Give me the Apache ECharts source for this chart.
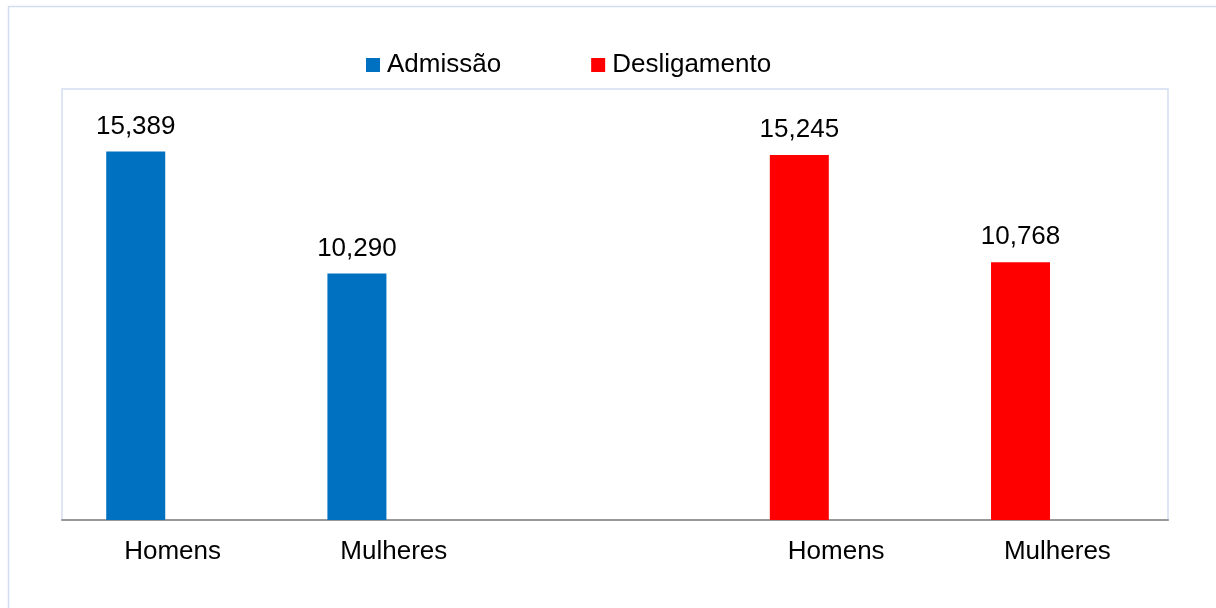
<!DOCTYPE html>
<html>
<head>
<meta charset="utf-8">
<script src="https://cdn.jsdelivr.net/npm/echarts@6/dist/echarts.min.js"></script>
<style>
  html, body { margin: 0; padding: 0; background: #fff; }
  #chart { width: 1216px; height: 608px; }
</style>
</head>
<body>
<div id="chart"></div>
<script>
// dados
const categories = ['Homens', 'Mulheres', '', 'Homens', 'Mulheres']
const admissao = [15389, 10290, null, null, null]
const desligamento = [null, null, null, 15245, 10768]

const chart = echarts.init(document.getElementById('chart'))

const fmt = v => v.value == null ? '' : v.value.toLocaleString('en-US')

const label = {
  show: true,
  position: 'top',
  distance: 12,
  fontSize: 26,
  color: '#000',
  fontFamily: 'Liberation Sans',
  formatter: fmt
}

chart.setOption({
  animation: false,
  textStyle: { fontFamily: 'Liberation Sans' },
  graphic: [
    {
      type: 'rect',
      shape: { x: 8.5, y: 6.5, width: 1220, height: 620 },
      style: { fill: 'none', stroke: '#d3ddf1', lineWidth: 1.5 },
      silent: true
    }
  ],
  legend: {
    data: ['Admissão', 'Desligamento'],
    top: 47,
    left: 361,
    itemWidth: 14,
    itemHeight: 14,
    itemGap: 90,
    icon: 'rect',
    textStyle: { fontSize: 26, color: '#000', padding: [0, 0, 0, 2] }
  },
  grid: {
    left: 62,
    right: 48,
    top: 89,
    bottom: 88,
    show: true,
    borderColor: '#d3ddf1',
    borderWidth: 1.5
  },
  xAxis: {
    type: 'category',
    data: categories,
    axisLine: { lineStyle: { color: '#999', width: 2 } },
    axisTick: { show: false },
    axisLabel: { fontSize: 26, color: '#000', margin: 19 }
  },
  yAxis: {
    type: 'value',
    min: 0,
    max: 18000,
    show: false,
    splitLine: { show: false }
  },
  series: [
    {
      name: 'Admissão',
      type: 'bar',
      stack: 'a',
      barWidth: 59,
      barGap: '25%',
      data: admissao,
      itemStyle: { color: '#0070C0' },
      label: label
    },
    {
      name: 'Desligamento',
      type: 'bar',
      stack: 'a',
      barWidth: 59,
      data: desligamento,
      itemStyle: { color: '#FF0000' },
      label: label
    },
    {
      name: 'vazio',
      type: 'bar',
      stack: 'b',
      barWidth: 59,
      data: [null, null, null, null, null],
      silent: true
    }
  ]
})
</script>
</body>
</html>
